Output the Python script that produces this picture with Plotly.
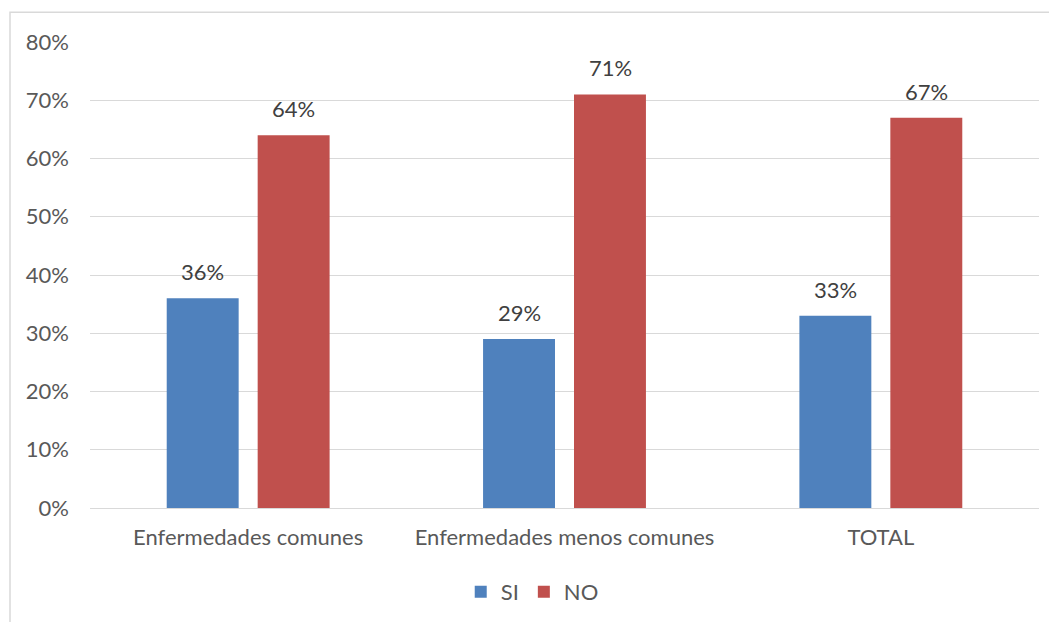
import plotly.graph_objects as go

categories = ["Enfermedades comunes", "Enfermedades menos comunes", "TOTAL"]
si_values = [36, 29, 33]
no_values = [64, 71, 67]
series_names = ["SI", "NO"]

FONT = "Lato"
FS = 22
colors = ["#4F81BD", "#C0504D"]
fig = go.Figure()
annotations = []
for i, (name, vals) in enumerate([(series_names[0], si_values), (series_names[1], no_values)]):
    fig.add_trace(go.Bar(name=name, x=categories, y=vals, marker_color=colors[i], marker_line_width=0))
    for c, v in zip(categories, vals):
        annotations.append(dict(x=c, y=v, xref="x", yref="y", text=f"{v}%", showarrow=False,
                                yanchor="bottom", yshift=11, xshift=(-45.5 if i == 0 else 45.5),
                                font=dict(family=FONT, size=FS, color="#404040")))

fig.update_layout(
    width=1057, height=622,
    margin=dict(l=82, r=26, t=34, b=122),
    paper_bgcolor="white", plot_bgcolor="white",
    barmode="group", bargap=0.425, bargroupgap=0.209,
    font=dict(family=FONT, size=FS, color="#595959"),
    showlegend=True,
    legend=dict(orientation="h", x=0.466, xanchor="center", y=-0.18, yanchor="middle",
                font=dict(family=FONT, size=FS, color="#595959"), itemwidth=30,
                traceorder="normal"),
    xaxis=dict(showgrid=False, showline=True, linecolor="#d9d9d9", linewidth=1, ticks="",
               tickfont=dict(family=FONT, size=FS, color="#595959")),
    yaxis=dict(range=[0, 80], dtick=10, ticksuffix="%", showgrid=True, gridcolor="#d9d9d9",
               gridwidth=1, zeroline=False, showline=False, ticks="", ticklen=0,
               tickfont=dict(family=FONT, size=FS, color="#595959")),
    annotations=annotations,
    shapes=[dict(type="rect", xref="paper", yref="paper", x0=-0.0843, x1=1.1, y0=-0.4, y1=1.064,
                 line=dict(color="#d9d9d9", width=1.5), fillcolor="rgba(0,0,0,0)", layer="below")],
)
fig.update_yaxes(ticklabelstandoff=20)
fig.update_xaxes(ticklabelstandoff=10)
fig.write_html("out.html")
